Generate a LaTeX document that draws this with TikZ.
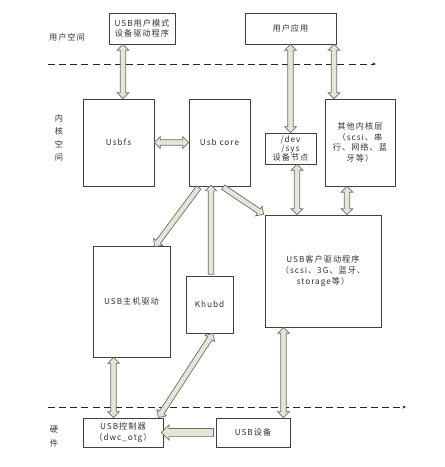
\documentclass[tikz,border=0pt]{standalone}
\usepackage{fontspec}
\setmainfont{Noto Sans CJK SC}[LetterSpace=12]
\usetikzlibrary{arrows.meta,calc,shapes.arrows}

\definecolor{shaft}{HTML}{E6E6D6}
\definecolor{edge}{HTML}{6E6E6E}

% fat arrow between two points: style, from, to
\newcommand{\fatarrow}[3]{%
  \path let \p1=(#2), \p2=(#3),
    \n1={atan2(\y2-\y1,\x2-\x1)}, \n2={veclen(\x2-\x1,\y2-\y1)} in
    node[#1, minimum height=\n2, rotate=\n1] at ($(\p1)!0.5!(\p2)$) {};}

\begin{document}
\begin{tikzpicture}[
  x=0.03cm, y=-0.03cm,
  font=\fontsize{7}{9}\selectfont, text=black!80,
  box/.style={draw=black!75, line width=0.8pt, align=center, inner sep=1pt},
  sgl/.style={single arrow, draw=edge, fill=shaft, line width=0.6pt,
    inner sep=2pt, outer sep=0pt, single arrow head extend=2.6pt},
  dbl/.style={double arrow, draw=edge, fill=shaft, line width=0.6pt,
    inner sep=2pt, outer sep=0pt, double arrow head extend=2.6pt},
  bigsgl/.style={sgl, inner sep=3.2pt, single arrow head extend=3pt},
  layer/.style={draw=black!85, line width=0.7pt, dash pattern=on 6pt off 3.5pt,
    -{Stealth[length=3pt,width=2.5pt]}}
]
  \useasboundingbox[fill=white] (0,0) rectangle (445,467);

  % layer boundaries
  \coordinate (d1s) at (48,64);  \coordinate (d1e) at (376,64);
  \coordinate (d2s) at (48,407); \coordinate (d2e) at (406,407);
  \draw[layer] (d1s) -- (d1e);
  \draw[layer] (d2s) -- (d2e);

  \node (luser) at (67,37) {用户空间};
  \node[align=center, font=\fontsize{7}{11}\selectfont] (lkern) at (59,138) {内\\核\\空\\间};
  \node[align=center, font=\fontsize{7}{12}\selectfont] (lhw) at (54,437) {硬\\件};

  % boxes
  \node[box, minimum width=1.98cm, minimum height=0.93cm] (umode) at (142,28.5) {USB用户模式\\设备驱动程序};
  \node[box, minimum width=2.73cm, minimum height=0.93cm] (app) at (290.5,28.5) {用户应用};
  \node[box, minimum width=2.13cm, minimum height=2.61cm] (usbfs) at (118.5,142.5) {Usbfs};
  \node[box, minimum width=1.83cm, minimum height=2.61cm] (core) at (219.5,142.5) {Usb core};
  \node[box, minimum width=1.53cm, minimum height=0.93cm, font=\fontsize{7}{8}\selectfont] (devsys) at (290.5,148.5) {/dev\\/sys\\设备节点};
  \node[box, minimum width=2.1cm, minimum height=2.61cm] (other) at (360,142.5) {其他内核层\\（scsi、串\\行、网络、蓝\\牙等）};
  \node[box, minimum width=3.48cm, minimum height=3.36cm] (client) at (323,271) {USB客户驱动程序\\（scsi、3G、蓝牙、\\storage等）};
  \node[box, minimum width=2.31cm, minimum height=3.33cm] (host) at (131.5,301.5) {USB主机驱动};
  \node[box, minimum width=1.41cm, minimum height=1.71cm] (khubd) at (209.5,304.5) {Khubd};
  \node[box, minimum width=2.4cm, minimum height=0.87cm] (ctrl) at (123,432.5) {USB控制器\\（dwc\_otg）};
  \node[box, minimum width=2.22cm, minimum height=0.87cm] (usbdev) at (253,432.5) {USB设备};

  % arrow end points
  \coordinate (a1) at ($(usbfs.north)+(4.5,0)$);
  \coordinate (a2) at (devsys.north);
  \coordinate (a3) at ($(other.north)+(-26,0)$);
  \coordinate (a5s) at ($(core.south west)+(11,0)$);
  \coordinate (a5e) at ($(host.north east)+(-15,0)$);
  \coordinate (a6) at ($(khubd.north)+(1.5,0)$);
  \coordinate (a7s) at ($(core.south)+(2.5,0)$);
  \coordinate (a7e) at ($(client.north west)+(-2,-1)$);
  \coordinate (a8) at ($(devsys.south)+(6.5,0)$);
  \coordinate (a9) at ($(other.south)+(-13,0)$);
  \coordinate (a10) at ($(client.south west)+(19,0)$);
  \coordinate (a11) at ($(host.south west)+(21,0)$);
  \coordinate (a12s) at ($(ctrl.north east)+(-5,0)$);
  \coordinate (a12e) at ($(khubd.south)+(3.5,0)$);

  \fatarrow{dbl}{a1 |- umode.south}{a1}
  \fatarrow{dbl}{a2 |- app.south}{a2}
  \fatarrow{dbl}{a3 |- app.south}{a3}
  \fatarrow{dbl}{usbfs.east}{core.west}
  \fatarrow{sgl}{a5s}{a5e}
  \fatarrow{sgl}{a6}{a6 |- core.south}
  \fatarrow{sgl}{a7s}{a7e}
  \fatarrow{dbl}{a8}{a8 |- client.north}
  \fatarrow{dbl}{a9}{a9 |- client.north}
  \fatarrow{dbl}{a10}{a10 |- usbdev.north}
  \fatarrow{dbl}{a11}{a11 |- ctrl.north}
  \fatarrow{dbl}{a12s}{a12e}
  \fatarrow{bigsgl}{usbdev.west}{ctrl.east}
\end{tikzpicture}
\end{document}
